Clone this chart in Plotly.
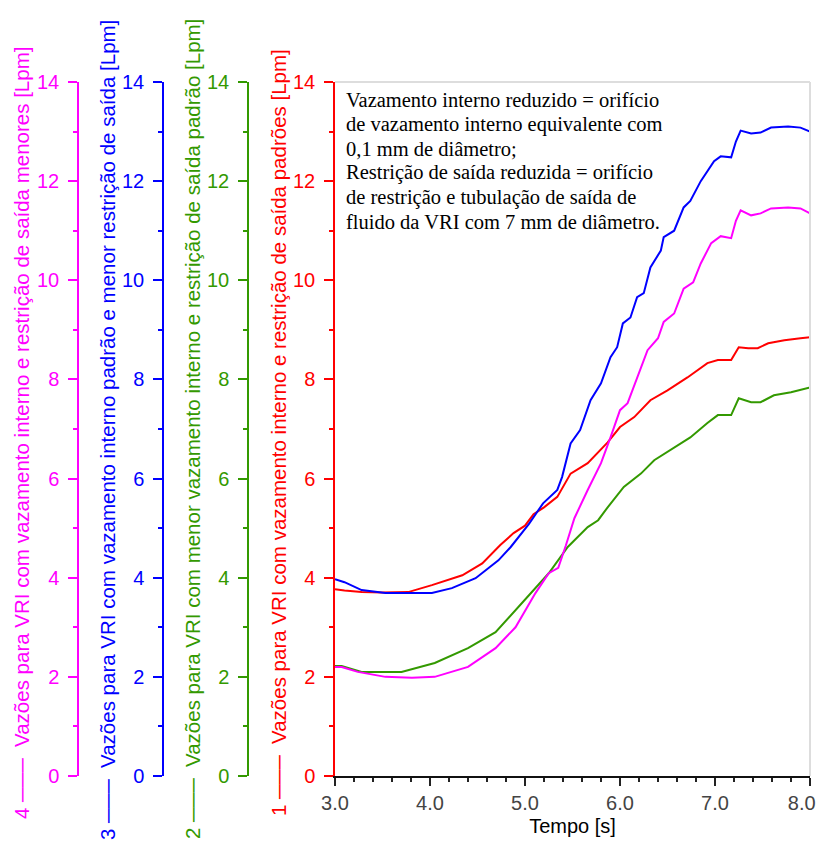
import plotly.graph_objects as go

# ---- data ----
t_red = [3.0, 3.1, 3.28, 3.5, 3.77, 4.02, 4.34, 4.55, 4.74, 4.88, 5.0, 5.09, 5.2, 5.34, 5.48,
         5.66, 5.87, 6.0, 6.15, 6.32, 6.5, 6.71, 6.92, 7.03, 7.17, 7.25, 7.35, 7.45, 7.56,
         7.73, 7.9, 8.0]
v_red = [3.77, 3.74, 3.71, 3.70, 3.71, 3.85, 4.05, 4.29, 4.66, 4.9, 5.05, 5.28, 5.42, 5.63, 6.1,
         6.31, 6.73, 7.04, 7.24, 7.58, 7.78, 8.04, 8.33, 8.39, 8.39, 8.65, 8.63, 8.63, 8.73,
         8.79, 8.83, 8.85]

t_green = [3.0, 3.07, 3.28, 3.7, 4.05, 4.4, 4.69, 4.9, 5.11, 5.25, 5.45, 5.66, 5.77, 5.87,
           6.04, 6.22, 6.36, 6.57, 6.74, 6.92, 7.03, 7.17, 7.25, 7.38, 7.48, 7.62, 7.8, 8.0]
v_green = [2.22, 2.22, 2.10, 2.10, 2.28, 2.58, 2.9, 3.35, 3.81, 4.09, 4.62, 5.02, 5.16, 5.42,
           5.83, 6.1, 6.37, 6.63, 6.83, 7.12, 7.28, 7.28, 7.62, 7.54, 7.54, 7.68, 7.74, 7.84]

t_blue = [3.0, 3.1, 3.28, 3.53, 3.8, 4.02, 4.23, 4.48, 4.72, 4.85, 5.04, 5.19, 5.34, 5.39, 5.48,
          5.58, 5.69, 5.80, 5.90, 5.97, 6.03, 6.11, 6.18, 6.25, 6.32, 6.43, 6.46, 6.57, 6.67,
          6.74, 6.85, 6.99, 7.06, 7.17, 7.22, 7.27, 7.38, 7.48, 7.59, 7.77, 7.9, 8.0]
v_blue = [3.97, 3.91, 3.75, 3.69, 3.69, 3.69, 3.79, 3.99, 4.35, 4.62, 5.08, 5.5, 5.77, 6.03, 6.71,
          6.98, 7.58, 7.92, 8.45, 8.65, 9.13, 9.25, 9.66, 9.74, 10.26, 10.6, 10.87, 11.0, 11.47,
          11.6, 12.0, 12.4, 12.5, 12.48, 12.8, 13.02, 12.96, 12.98, 13.08, 13.1, 13.08, 13.0]

t_mag = [3.0, 3.07, 3.24, 3.53, 3.81, 4.05, 4.4, 4.69, 4.9, 5.11, 5.25, 5.35, 5.43, 5.52,
         5.66, 5.8, 5.9, 6.0, 6.08, 6.18, 6.29, 6.4, 6.46, 6.57, 6.67, 6.77, 6.85, 6.96,
         7.06, 7.17, 7.22, 7.27, 7.38, 7.48, 7.59, 7.77, 7.9, 8.0]
v_mag = [2.2, 2.2, 2.1, 2.0, 1.98, 2.0, 2.2, 2.58, 3.0, 3.69, 4.09, 4.2, 4.65, 5.2,
         5.77, 6.31, 6.83, 7.38, 7.52, 8.04, 8.59, 8.83, 9.16, 9.33, 9.83, 9.96, 10.34, 10.75,
         10.89, 10.85, 11.2, 11.41, 11.31, 11.35, 11.45, 11.47, 11.45, 11.35]

x_ticks = [3.0, 4.0, 5.0, 6.0, 7.0, 8.0]
x_ticklabels = ["3.0", "4.0", "5.0", "6.0", "7.0", "8.0"]
y_ticks = [0, 2, 4, 6, 8, 10, 12, 14]

titles = {
    "1": "Vazões para VRI com vazamento interno e restrição de saída padrões [Lpm]",
    "2": "Vazões para VRI com menor vazamento interno e restrição de saída padrão [Lpm]",
    "3": "Vazões para VRI com vazamento interno padrão e menor restrição de saída [Lpm]",
    "4": "Vazões para VRI com vazamento interno e restrição de saída menores [Lpm]",
}
note_lines = [
    "Vazamento interno reduzido = orifício",
    "de vazamento interno equivalente com",
    "0,1 mm de diâmetro;",
    "Restrição de saída reduzida = orifício",
    "de restrição e tubulação de saída de",
    "fluido da VRI com 7 mm de diâmetro.",
]

RED, GREEN, BLUE, MAG = "#FF0000", "#339900", "#0000FF", "#FF00FF"
SANS = "Liberation Sans, Arial, sans-serif"

# page body has an 8 px default margin: build the figure smaller so the page does not
# scroll, and work in reference-window pixel coordinates shifted by that offset
OFF = 8
W, H = 824 - OFF, 856 - 2 * OFF
PLOT_L, PLOT_R, PLOT_T, PLOT_B = 335, 810, 82, 776  # reference window pixels
ML = 0
MR = (824 - PLOT_R)
MT = PLOT_T - OFF
MB = H - (PLOT_B - OFF)
PW = W - ML - MR
PH = H - MT - MB
dom0 = (PLOT_L - OFF - ML) / PW


def px_x(p):
    return (p - OFF - ML) / PW


def px_y(p):
    return (PLOT_B - p) / PH


# the last tick label sits at the window edge: pad it on the right so it stays visible
tick_text = list(x_ticklabels)
tick_text[-1] = tick_text[-1] + "&nbsp;&nbsp;&nbsp;"

fig = go.Figure()
fig.add_trace(go.Scatter(x=t_red, y=v_red, mode="lines", line=dict(color=RED, width=2), yaxis="y"))
fig.add_trace(go.Scatter(x=t_green, y=v_green, mode="lines", line=dict(color=GREEN, width=2), yaxis="y2"))
fig.add_trace(go.Scatter(x=t_blue, y=v_blue, mode="lines", line=dict(color=BLUE, width=2), yaxis="y3"))
fig.add_trace(go.Scatter(x=t_mag, y=v_mag, mode="lines", line=dict(color=MAG, width=2), yaxis="y4"))


def yax(color, **kw):
    d = dict(range=[0, 14], tickvals=y_ticks, ticks="outside", ticklen=9, tickwidth=1.5,
             tickcolor=color, linecolor=color, linewidth=1.5, showline=True,
             showgrid=False, zeroline=False, automargin=False, ticklabelstandoff=5,
             tickfont=dict(family=SANS, size=20, color=color),
             minor=dict(dtick=1, ticks="outside", ticklen=4, tickcolor=color, tickwidth=1.5),
             fixedrange=True)
    d.update(kw)
    return d


axis_px = {"y2": 248, "y3": 163, "y4": 78}
fig.update_layout(
    width=W, height=H,
    margin=dict(l=ML, r=MR, t=MT, b=MB),
    paper_bgcolor="white", plot_bgcolor="white",
    showlegend=False,
    xaxis=dict(domain=[dom0, 1], range=[3, 8], tickvals=x_ticks, ticktext=tick_text,
               ticks="outside", ticklen=8, tickwidth=2, tickcolor="#222", automargin=False,
               ticklabeloverflow="allow",
               showline=True, linecolor="#111", linewidth=2, showgrid=False, zeroline=False,
               tickfont=dict(family=SANS, size=20, color="#444"),
               minor=dict(dtick=0.2, ticks="outside", ticklen=4, tickcolor="#222", tickwidth=1.5),
               title=dict(text="Tempo [s]", font=dict(family=SANS, size=20, color="black"),
                          standoff=6)),
    yaxis=yax(RED, anchor="x"),
    yaxis2=yax(GREEN, overlaying="y", anchor="free", position=px_x(axis_px["y2"])),
    yaxis3=yax(BLUE, overlaying="y", anchor="free", position=px_x(axis_px["y3"])),
    yaxis4=yax(MAG, overlaying="y", anchor="free", position=px_x(axis_px["y4"])),
)

# light grey frame on top and right of the plotting area
fig.add_shape(type="line", xref="x domain", yref="y domain", x0=0, x1=1, y0=1, y1=1,
              line=dict(color="#DDDDDD", width=2))
fig.add_shape(type="line", xref="x domain", yref="y domain", x0=1, x1=1, y0=0, y1=1,
              line=dict(color="#DDDDDD", width=2))

# rotated axis titles with legend samples
title_px = {"4": (21, MAG, 433), "3": (107, BLUE, 430), "2": (192, GREEN, 429), "1": (278, RED, 433)}
for key, (px, col, cy) in title_px.items():
    fig.add_annotation(
        text=f"{key} ───  {titles[key]}", textangle=-90,
        xref="paper", yref="paper", x=px_x(px), y=px_y(cy),
        xanchor="center", yanchor="middle", showarrow=False,
        font=dict(family=SANS, size=20.5, color=col))

# explanatory note, one line per annotation to reproduce the tight line spacing
note_y = [100, 124.3, 148.6, 172.9, 197.2, 221.5]
for line, yy in zip(note_lines, note_y):
    fig.add_annotation(
        text=line, xref="paper", yref="paper", x=px_x(344), y=px_y(yy),
        xanchor="left", yanchor="middle", align="left", showarrow=False,
        font=dict(family="Liberation Serif, Times New Roman, serif", size=20.5, color="black"))

fig.write_html("out.html")
